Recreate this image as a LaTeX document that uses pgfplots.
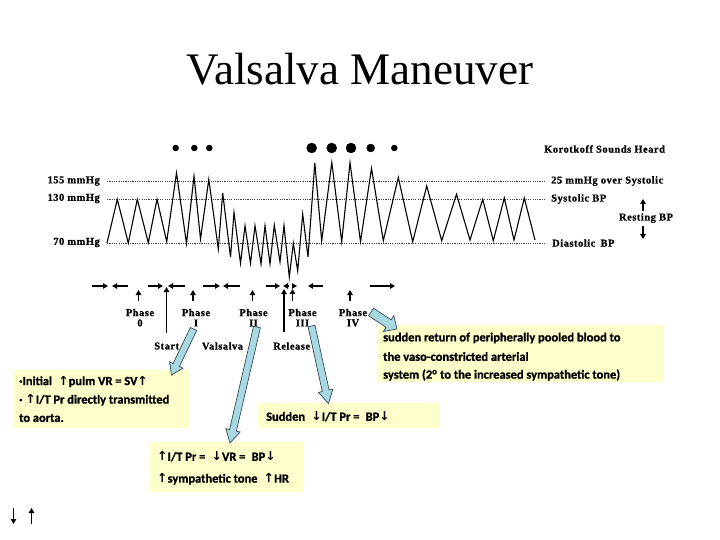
\documentclass[border=0pt]{standalone}
\usepackage{pgfplots}
\pgfplotsset{compat=1.18}
\usetikzlibrary{arrows.meta,calc}
\usepackage{fontspec}
\setmainfont{Liberation Serif}
\newfontfamily\labfont{Liberation Serif}[LetterSpace=5, BoldFeatures={FakeBold=0.8}]
\newfontfamily\calfont{Carlito}[BoldFeatures={FakeBold=1.2}]
\newfontfamily\dvfont{DejaVu Sans}
\definecolor{boxy}{RGB}{255,255,204}
\definecolor{arrb}{RGB}{168,216,226}
\definecolor{arre}{RGB}{55,75,85}
\newcommand{\ar}[1]{{\dvfont\bfseries #1}}
\newcommand{\fatarrow}[6]{%
 \coordinate (fa) at (axis cs:#1,#2);
 \coordinate (fb) at (axis cs:#3,#4);
 \coordinate (fh) at ($(fb)!#6!(fa)$);
 \draw[arre, fill=arrb, line width=0.7bp, line join=miter]
  ($(fa)!#5!90:(fb)$) -- ($(fh)!#5!-90:(fa)$) -- ($(fh)!2.1*#5!-90:(fa)$) -- (fb)
  -- ($(fh)!2.1*#5!90:(fa)$) -- ($(fh)!#5!90:(fa)$) -- ($(fa)!#5!-90:(fb)$) -- cycle;}
\tikzset{blk/.style={line width=1.6bp, -{Triangle[length=5bp,width=5.5bp]}},
         lbl/.style={inner sep=0pt, font=\labfont\bfseries\fontsize{10.5}{12}\selectfont},
         plbl/.style={inner sep=0pt, font=\labfont\bfseries\fontsize{10.5}{12}\selectfont},
         ctx/.style={inner sep=0pt, anchor=west, font=\calfont\bfseries\fontsize{12.5}{14}\selectfont}}
\begin{document}
\begin{tikzpicture}
\begin{axis}[scale only axis, width=720bp, height=540bp,
  xmin=0, xmax=720, ymin=0, ymax=540, y dir=reverse,
  hide axis, clip=false]
\path (axis cs:0,0) rectangle (axis cs:720,540);
% title
\node[inner sep=0pt, font=\fontsize{45.3}{50}\selectfont] at (axis cs:360,69) {Valsalva Maneuver};
% reference levels (155, 130, 70 mmHg)
\addplot[black!75, line width=0.8bp, dash pattern=on 1.2bp off 1.1bp] coordinates {(107,181) (545,181)};
\addplot[black!75, line width=0.8bp, dash pattern=on 1.2bp off 1.1bp] coordinates {(107,199.3) (545,199.3)};
\addplot[black!75, line width=0.8bp, dash pattern=on 1.2bp off 1.1bp] coordinates {(107,243.3) (545,243.3)};
% pressure waveform
\addplot[black, line width=1.1bp, line join=miter] coordinates {
(107,243) (117.3,199.3) (128.3,243) (137.3,199.3) (148.3,242.7) (157,199.3)
(166.7,241.7) (176.5,173) (186.5,243.5) (194,176) (200.5,239) (208.8,179.3)
(218.3,249) (222.7,193) (230.5,257) (234,212.5) (240.5,263.3) (245,225.7)
(250.5,263.3) (255,225.7) (261,264) (265,225.7) (270,264) (274.3,225)
(280,262) (284,225.5) (289.3,277) (293.3,243.3) (297.7,271) (302.7,214)
(308,257) (314.8,163) (321.7,241) (331.8,162.5) (341.7,241.7) (350,162.7)
(360.5,241.7) (371.5,168.3) (383.3,240.7) (398.3,177.5) (412.7,241.7) (426.7,186)
(441.7,240.7) (456.5,194.3) (470,240) (482.7,199.3) (493.3,240.7) (504.3,198)
(514,240) (524.3,198) (535,240)};
% Korotkoff sounds
\addplot[only marks, mark=*, mark size=3bp, black] coordinates {(175.7,148) (194.3,148) (209.3,148) (394.3,148)};
\addplot[only marks, mark=*, mark size=5bp, black] coordinates {(311.7,148) (331.7,148) (351,148)};
\addplot[only marks, mark=*, mark size=4bp, black] coordinates {(370.7,148)};
% left labels
\node[lbl, anchor=east] at (axis cs:100,181) {155 mmHg};
\node[lbl, anchor=east] at (axis cs:100,198.5) {130 mmHg};
\node[lbl, anchor=east] at (axis cs:100,242.5) {70 mmHg};
% right labels
\node[lbl, anchor=west] at (axis cs:544,149) {Korotkoff Sounds Heard};
\node[lbl, anchor=west] at (axis cs:551,181) {25 mmHg over Systolic};
\node[lbl, anchor=west] at (axis cs:551,199) {Systolic BP};
\node[lbl, anchor=west] at (axis cs:552,243) {Diastolic\enspace BP};
\node[lbl] at (axis cs:646,218) {Resting BP};
\draw[blk] (axis cs:643,211) -- (axis cs:643,199);
\draw[blk] (axis cs:643,226) -- (axis cs:643,239);
% phase row arrows
\draw[blk] (axis cs:92,286) -- (axis cs:108,286);
\draw[blk] (axis cs:128,286) -- (axis cs:112,286);
\draw[blk] (axis cs:148,286) -- (axis cs:163,286);
\draw[blk] (axis cs:185,286) -- (axis cs:168,286);
\draw[blk] (axis cs:203,286) -- (axis cs:220,286);
\draw[blk] (axis cs:240,286) -- (axis cs:223,286);
\draw[blk] (axis cs:266,286) -- (axis cs:280,286);
\draw[blk] (axis cs:288,286) -- (axis cs:283,286);
\draw[blk] (axis cs:292,286) -- (axis cs:297,286);
\draw[blk] (axis cs:323,286) -- (axis cs:308,286);
\draw[blk] (axis cs:370,286) -- (axis cs:395,286);
% phase markers
\draw[blk] (axis cs:138.5,301) -- (axis cs:138.5,290);
\draw[blk] (axis cs:193,301) -- (axis cs:193,290);
\draw[blk] (axis cs:252.5,301) -- (axis cs:252.5,290);
\draw[blk] (axis cs:292.5,301) -- (axis cs:292.5,289);
\draw[blk] (axis cs:350,301) -- (axis cs:350,290);
\draw[blk] (axis cs:166.5,333) -- (axis cs:166.5,287);
\draw[blk] (axis cs:284,332) -- (axis cs:284,289);
% phase labels
\node[plbl] at (axis cs:140,312.5) {Phase};
\node[plbl] at (axis cs:140,323) {0};
\node[plbl] at (axis cs:196,312.5) {Phase};
\node[plbl] at (axis cs:196,323) {I};
\node[plbl] at (axis cs:253.5,312.5) {Phase};
\node[plbl] at (axis cs:253.5,323) {II};
\node[plbl] at (axis cs:302.5,312.5) {Phase};
\node[plbl] at (axis cs:302.5,323) {III};
\node[plbl] at (axis cs:353,312.5) {Phase};
\node[plbl] at (axis cs:353,323) {IV};
\node[plbl] at (axis cs:166.7,346) {Start};
\node[plbl] at (axis cs:222.5,346) {Valsalva};
\node[plbl] at (axis cs:291.7,346) {Release};
% callout boxes
\fill[boxy] (axis cs:14,370) rectangle (axis cs:190,428);
\fill[boxy] (axis cs:150,442) rectangle (axis cs:303,492);
\fill[boxy] (axis cs:258,403) rectangle (axis cs:440,428);
\fill[boxy] (axis cs:377,325) rectangle (axis cs:664,382);
% callout arrows
\fatarrow{193.5}{329}{171.5}{375}{3.5bp}{11bp}
\fatarrow{257}{327}{230}{443}{3.5bp}{13bp}
\fatarrow{311.5}{326}{328.5}{403.5}{3.5bp}{13bp}
\fatarrow{371}{312}{397}{329}{4.5bp}{10bp}
% callout texts
\node[ctx] at (axis cs:19,381.5) {·Initial\enspace\ar{↑}pulm VR = SV\ar{↑}};
\node[ctx] at (axis cs:19,400) {· \ar{↑}I/T Pr directly transmitted};
\node[ctx] at (axis cs:19,418) {to aorta.};
\node[ctx] at (axis cs:157,456.5) {\ar{↑}I/T Pr =\enspace\ar{↓}VR =\enspace BP\ar{↓}};
\node[ctx] at (axis cs:157,479) {\ar{↑}sympathetic tone\enspace\ar{↑}HR};
\node[ctx] at (axis cs:266,416.5) {Sudden\enspace\ar{↓}I/T Pr =\enspace BP\ar{↓}};
\node[ctx] at (axis cs:383,338) {sudden return of peripherally pooled blood to};
\node[ctx] at (axis cs:383,356.5) {the vaso-constricted arterial};
\node[ctx] at (axis cs:383,375) {system (2\textsuperscript{o} to the increased sympathetic tone)};
% bottom-left arrows
\draw[blk, line width=1.3bp] (axis cs:13.5,508) -- (axis cs:13.5,524);
\draw[blk, line width=1.3bp] (axis cs:31.5,524) -- (axis cs:31.5,508);
\end{axis}
\end{tikzpicture}
\end{document}
